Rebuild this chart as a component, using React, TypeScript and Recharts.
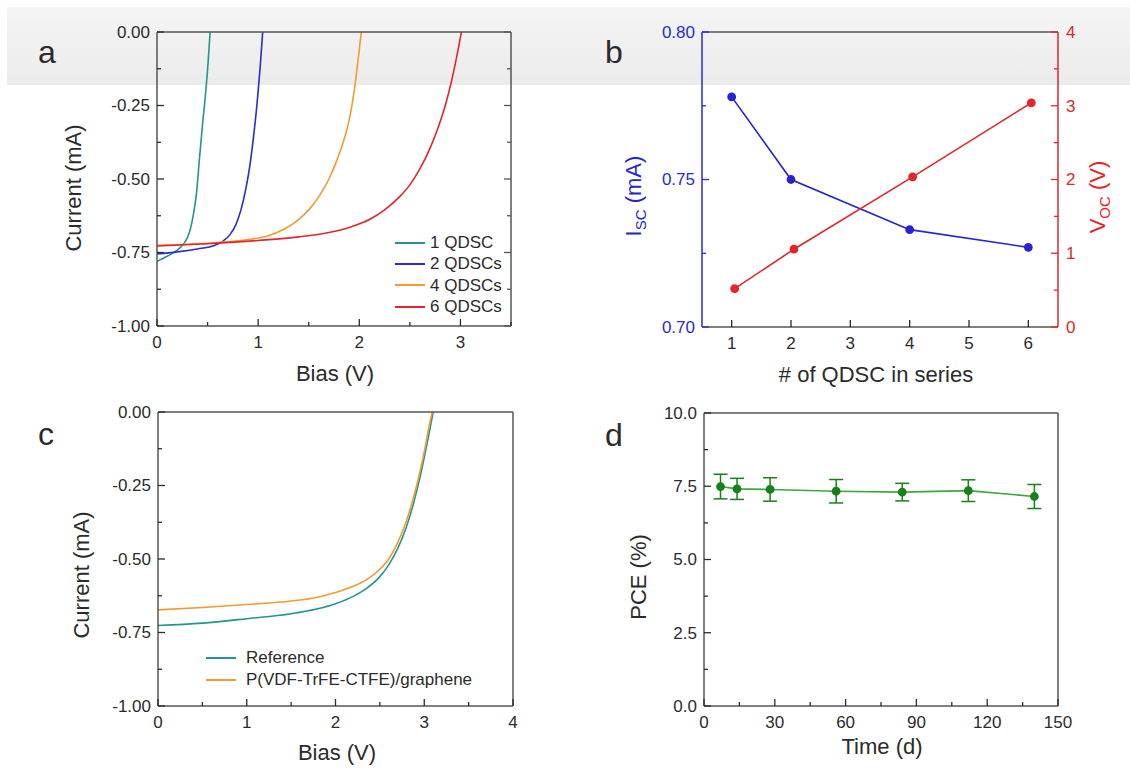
import React from 'react';
import { LineChart, Line, XAxis, YAxis, Legend, ErrorBar } from 'recharts';

const FONT = '"Liberation Sans", Arial, sans-serif';
const INK = '#2b2b2b';
const FRAME = '#555555';

// ---- (a) I-V curves of QDSCs connected in series ----
const seriesNames = ['1 QDSC', '2 QDSCs', '4 QDSCs', '6 QDSCs'];
const seriesColors = ['#23978b', '#2a2ad6', '#f39b2f', '#e2262c'];

const bias1 = [0, 0.1, 0.2, 0.26, 0.3, 0.33, 0.36, 0.39, 0.42, 0.45, 0.48, 0.505, 0.525];
const current1 = [-0.78, -0.763, -0.742, -0.722, -0.7, -0.67, -0.62, -0.55, -0.43, -0.315, -0.21, -0.105, 0];

const bias2 = [0, 0.2, 0.4, 0.55, 0.65, 0.72, 0.78, 0.83, 0.88, 0.92, 0.96, 0.99, 1.02, 1.045];
const current2 = [-0.755, -0.748, -0.738, -0.728, -0.712, -0.69, -0.655, -0.605, -0.53, -0.45, -0.34, -0.24, -0.12, 0];

const bias4 = [0, 0.3, 0.6, 0.9, 1.1, 1.25, 1.4, 1.5, 1.6, 1.7, 1.78, 1.85, 1.9, 1.95, 1.99, 2.02];
const current4 = [-0.725, -0.722, -0.716, -0.706, -0.693, -0.672, -0.638, -0.605, -0.56, -0.5, -0.435, -0.365, -0.3, -0.2, -0.09, 0];

const bias6 = [0, 0.5, 1.0, 1.4, 1.7, 1.9, 2.1, 2.25, 2.4, 2.5, 2.6, 2.7, 2.78, 2.85, 2.91, 2.96, 3.01];
const current6 = [-0.728, -0.72, -0.709, -0.697, -0.682, -0.665, -0.638, -0.605, -0.56, -0.52, -0.465, -0.395, -0.325, -0.25, -0.17, -0.09, 0];

const biasTicksA = [0, 0.5, 1, 1.5, 2, 2.5, 3, 3.5];
const currentTicks = [-1, -0.875, -0.75, -0.625, -0.5, -0.375, -0.25, -0.125, 0];

// ---- (b) Isc / Voc vs number of cells ----
const cellCounts = [1, 2, 4, 6];
const iscValues = [0.778, 0.75, 0.733, 0.727];
const vocCounts = [1.05, 2.05, 4.05, 6.05];
const vocValues = [0.52, 1.055, 2.035, 3.04];
const countTicks = [1, 2, 3, 4, 5, 6];
const iscTicks = [0.7, 0.725, 0.75, 0.775, 0.8];
const vocTicks = [0, 0.5, 1, 1.5, 2, 2.5, 3, 3.5, 4];

// ---- (c) reference vs P(VDF-TrFE-CTFE)/graphene ----
const compareNames = ['Reference', 'P(VDF-TrFE-CTFE)/graphene'];
const compareColors = ['#22968a', '#f39b2f'];
const refBias = [0, 0.5, 1.0, 1.5, 1.8, 2.0, 2.2, 2.35, 2.5, 2.6, 2.7, 2.8, 2.88, 2.95, 3.01, 3.06, 3.1];
const refCurrent = [-0.726, -0.718, -0.703, -0.686, -0.669, -0.652, -0.627, -0.6, -0.56, -0.52, -0.465, -0.39, -0.31, -0.225, -0.14, -0.065, 0];
const pvdfBias = [0, 0.5, 1.0, 1.5, 1.8, 2.0, 2.2, 2.35, 2.5, 2.6, 2.7, 2.8, 2.88, 2.95, 3.01, 3.05, 3.09];
const pvdfCurrent = [-0.673, -0.665, -0.655, -0.643, -0.63, -0.614, -0.593, -0.57, -0.535, -0.5, -0.445, -0.37, -0.29, -0.205, -0.12, -0.055, 0];
const biasTicksC = [0, 0.5, 1, 1.5, 2, 2.5, 3, 3.5, 4];

// ---- (d) PCE stability ----
const days = [7, 14, 28, 56, 84, 112, 140];
const pce = [7.49, 7.41, 7.39, 7.33, 7.3, 7.35, 7.15];
const pceErr = [0.42, 0.36, 0.4, 0.4, 0.3, 0.37, 0.41];
const dayTicks = [0, 15, 30, 45, 60, 75, 90, 105, 120, 135, 150];
const pceTicks = [0, 1.25, 2.5, 3.75, 5, 6.25, 7.5, 8.75, 10];

const toPoints = (xs: number[], ys: number[]) => xs.map((x, i) => ({ x, y: ys[i] }));

const isMultiple = (v: number, step: number) => {
  const r = v / step;
  return Math.abs(r - Math.round(r)) < 1e-6;
};

type Side = 'left' | 'right' | 'bottom' | 'top';

// inward ticks (Origin style), long for major and short for minor
const makeTick = (side: Side, majorStep: number, color: string, fmt?: (v: number) => string) =>
  (props: any) => {
    const { x, y, payload } = props;
    const v = payload.value as number;
    const major = isMultiple(v, majorStep);
    const len = major ? 7 : 4;
    let x2 = x, y2 = y, tx = x, ty = y, anchor = 'middle', dy = '0.35em';
    if (side === 'bottom') { y2 = y - len; ty = y + 10; dy = '0.71em'; }
    if (side === 'top') { y2 = y + len; }
    if (side === 'left') { x2 = x + len; tx = x - 7; anchor = 'end'; }
    if (side === 'right') { x2 = x - len; tx = x + 8; anchor = 'start'; }
    return (
      <g>
        <line x1={x} y1={y} x2={x2} y2={y2} stroke={color} strokeWidth={1.3} />
        {fmt && major && (
          <text x={tx} y={ty} dy={dy} textAnchor={anchor} fill={color} fontSize={17} fontFamily={FONT}>
            {fmt(v)}
          </text>
        )}
      </g>
    );
  };

const renderLegend = (order: string[], gap: number, rowHeight: number) => (props: any) => {
  const items = [...(props.payload || [])].sort((a: any, b: any) => order.indexOf(a.value) - order.indexOf(b.value));
  return (
    <div style={{ fontFamily: FONT, fontSize: 17, color: INK, lineHeight: `${rowHeight}px` }}>
      {items.map((p: any) => (
        <div key={p.value} style={{ display: 'flex', alignItems: 'center', whiteSpace: 'nowrap' }}>
          <span style={{ display: 'inline-block', width: 30, borderTop: `2px solid ${p.color}`, marginRight: gap }} />
          <span>{p.value}</span>
        </div>
      ))}
    </div>
  );
};

const frame = { stroke: FRAME, strokeWidth: 1.5 };
const two = (v: number) => v.toFixed(2);
const one = (v: number) => v.toFixed(1);
const int = (v: number) => String(v);

const PanelA = () => {
  const series = [
    toPoints(bias1, current1),
    toPoints(bias2, current2),
    toPoints(bias4, current4),
    toPoints(bias6, current6),
  ];
  return (
    <LineChart width={565} height={389} margin={{ top: 31, right: 53, bottom: 62, left: 156 }}>
      <XAxis dataKey="x" type="number" domain={[0, 3.5]} ticks={biasTicksA} interval={0} allowDataOverflow
        height={1} tickSize={0} tickMargin={0} tickLine={false} axisLine={frame}
        tick={makeTick('bottom', 1, INK, int)} />
      <XAxis xAxisId="top" orientation="top" type="number" domain={[0, 3.5]} ticks={biasTicksA} interval={0} allowDataOverflow
        height={1} tickSize={0} tickMargin={0} tickLine={false} axisLine={frame}
        tick={makeTick('top', 1, FRAME)} />
      <YAxis type="number" domain={[-1, 0]} ticks={currentTicks} interval={0} allowDataOverflow
        width={1} tickSize={0} tickMargin={0} tickLine={false} axisLine={frame}
        tick={makeTick('left', 0.25, INK, two)} />
      <YAxis yAxisId="right" orientation="right" type="number" domain={[-1, 0]} ticks={currentTicks} interval={0} allowDataOverflow
        width={1} tickSize={0} tickMargin={0} tickLine={false} axisLine={frame}
        tick={makeTick('right', 0.25, FRAME)} />
      {series.map((pts, i) => (
        <Line key={seriesNames[i]} data={pts} dataKey="y" name={seriesNames[i]} type="monotone"
          stroke={seriesColors[i]} strokeWidth={1.6} dot={false} isAnimationActive={false} />
      ))}
      <Legend layout="vertical" align="center" verticalAlign="middle"
        wrapperStyle={{ left: 395, top: 232, width: 'auto', height: 'auto' }}
        content={renderLegend(seriesNames, 5, 21.3)} />
    </LineChart>
  );
};

const PanelB = () => (
  <LineChart width={565} height={389} margin={{ top: 31, right: 71, bottom: 61, left: 136 }}>
    <XAxis dataKey="x" type="number" domain={[0.5, 6.5]} ticks={countTicks} interval={0} allowDataOverflow
      height={1} tickSize={0} tickMargin={0} tickLine={false} axisLine={frame}
      tick={makeTick('bottom', 1, INK, int)} />
    <XAxis xAxisId="top" orientation="top" type="number" domain={[0.5, 6.5]} allowDataOverflow
      height={1} tick={false} tickLine={false} axisLine={frame} />
    <YAxis yAxisId="isc" type="number" domain={[0.7, 0.8]} ticks={iscTicks} interval={0} allowDataOverflow
      width={1} tickSize={0} tickMargin={0} tickLine={false} axisLine={{ stroke: '#2a2ad6', strokeWidth: 1.5 }}
      tick={makeTick('left', 0.05, '#2a2ad6', two)} />
    <YAxis yAxisId="voc" orientation="right" type="number" domain={[0, 4]} ticks={vocTicks} interval={0} allowDataOverflow
      width={1} tickSize={0} tickMargin={0} tickLine={false} axisLine={{ stroke: '#e2262c', strokeWidth: 1.5 }}
      tick={makeTick('right', 1, '#e2262c', int)} />
    <Line yAxisId="isc" data={toPoints(cellCounts, iscValues)} dataKey="y" type="linear" stroke="#2424d4" strokeWidth={1.6}
      dot={{ r: 3.6, fill: '#2424d4', stroke: '#2424d4' }} isAnimationActive={false} />
    <Line yAxisId="voc" data={toPoints(vocCounts, vocValues)} dataKey="y" type="linear" stroke="#e2262c" strokeWidth={1.6}
      dot={{ r: 3.6, fill: '#e2262c', stroke: '#e2262c' }} isAnimationActive={false} />
  </LineChart>
);

const PanelC = () => {
  const series = [toPoints(refBias, refCurrent), toPoints(pvdfBias, pvdfCurrent)];
  return (
    <LineChart width={565} height={389} margin={{ top: 22, right: 51, bottom: 71, left: 157 }}>
      <XAxis dataKey="x" type="number" domain={[0, 4]} ticks={biasTicksC} interval={0} allowDataOverflow
        height={1} tickSize={0} tickMargin={0} tickLine={false} axisLine={frame}
        tick={makeTick('bottom', 1, INK, int)} />
      <XAxis xAxisId="top" orientation="top" type="number" domain={[0, 4]} allowDataOverflow
        height={1} tick={false} tickLine={false} axisLine={frame} />
      <YAxis type="number" domain={[-1, 0]} ticks={currentTicks} interval={0} allowDataOverflow
        width={1} tickSize={0} tickMargin={0} tickLine={false} axisLine={frame}
        tick={makeTick('left', 0.25, INK, two)} />
      <YAxis yAxisId="right" orientation="right" type="number" domain={[-1, 0]} allowDataOverflow
        width={1} tick={false} tickLine={false} axisLine={frame} />
      {series.map((pts, i) => (
        <Line key={compareNames[i]} data={pts} dataKey="y" name={compareNames[i]} type="monotone"
          stroke={compareColors[i]} strokeWidth={1.6} dot={false} isAnimationActive={false} />
      ))}
      <Legend layout="vertical" align="center" verticalAlign="middle"
        wrapperStyle={{ left: 206, top: 258, width: 'auto', height: 'auto' }}
        content={renderLegend(compareNames, 10, 22)} />
    </LineChart>
  );
};

const PanelD = () => {
  const pts = days.map((d, i) => ({ x: d, y: pce[i], err: pceErr[i] }));
  return (
    <LineChart width={565} height={389} margin={{ top: 23, right: 71, bottom: 71, left: 138 }}>
      <XAxis dataKey="x" type="number" domain={[0, 150]} ticks={dayTicks} interval={0} allowDataOverflow
        height={1} tickSize={0} tickMargin={0} tickLine={false} axisLine={frame}
        tick={makeTick('bottom', 30, INK, int)} />
      <XAxis xAxisId="top" orientation="top" type="number" domain={[0, 150]} allowDataOverflow
        height={1} tick={false} tickLine={false} axisLine={frame} />
      <YAxis type="number" domain={[0, 10]} ticks={pceTicks} interval={0} allowDataOverflow
        width={1} tickSize={0} tickMargin={0} tickLine={false} axisLine={frame}
        tick={makeTick('left', 2.5, INK, one)} />
      <YAxis yAxisId="right" orientation="right" type="number" domain={[0, 10]} allowDataOverflow
        width={1} tick={false} tickLine={false} axisLine={frame} />
      <Line data={pts} dataKey="y" type="linear" stroke="#3ea63e" strokeWidth={1.6}
        dot={{ r: 3.6, fill: '#17801a', stroke: '#17801a' }} isAnimationActive={false}>
        <ErrorBar dataKey="err" width={7} stroke="#17801a" strokeWidth={1.5} direction="y" isAnimationActive={false} />
      </Line>
    </LineChart>
  );
};

const box = (left: number, top: number): React.CSSProperties => ({ position: 'absolute', left, top, width: 565, height: 389 });

export default function App() {
  return (
    <div style={{ position: 'fixed', left: 0, top: 0, width: 1130, height: 778, background: '#ffffff', overflow: 'hidden', fontFamily: FONT }}>
      <div style={{ position: 'absolute', left: 7, top: 7, width: 1123, height: 78, background: 'linear-gradient(to bottom, #f5f5f5, #ebebeb)' }} />
      <div style={box(0, 0)}><PanelA /></div>
      <div style={box(565, 0)}><PanelB /></div>
      <div style={box(0, 389)}><PanelC /></div>
      <div style={box(565, 389)}><PanelD /></div>
      <svg width={1130} height={778} style={{ position: 'absolute', left: 0, top: 0, pointerEvents: 'none' }}
        fontFamily={FONT} fill={INK}>
        <text x={47} y={63} fontSize={32} textAnchor="middle">a</text>
        <text x={614} y={63} fontSize={32} textAnchor="middle">b</text>
        <text x={46} y={445} fontSize={32} textAnchor="middle">c</text>
        <text x={614} y={446} fontSize={32} textAnchor="middle">d</text>

        <text x={335} y={381} fontSize={22} textAnchor="middle">Bias (V)</text>
        <text x={81} y={188} fontSize={22} textAnchor="middle" transform="rotate(-90 81 188)">Current (mA)</text>

        <text x={876} y={382} fontSize={22} textAnchor="middle"># of QDSC in series</text>
        <text x={641} y={196} fontSize={22} textAnchor="middle" fill="#2424d4" transform="rotate(-90 641 196)">
          I<tspan fontSize={15} dy={5}>SC</tspan><tspan dy={-5}> (mA)</tspan>
        </text>
        <text x={1105} y={197} fontSize={22} textAnchor="middle" fill="#e2262c" transform="rotate(-90 1105 197)">
          V<tspan fontSize={15} dy={5}>OC</tspan><tspan dy={-5}> (V)</tspan>
        </text>

        <text x={337} y={760} fontSize={22} textAnchor="middle">Bias (V)</text>
        <text x={89} y={575} fontSize={22} textAnchor="middle" transform="rotate(-90 89 575)">Current (mA)</text>

        <text x={882} y={754} fontSize={22} textAnchor="middle">Time (d)</text>
        <text x={646} y={577} fontSize={22} textAnchor="middle" transform="rotate(-90 646 577)">PCE (%)</text>
      </svg>
    </div>
  );
}
